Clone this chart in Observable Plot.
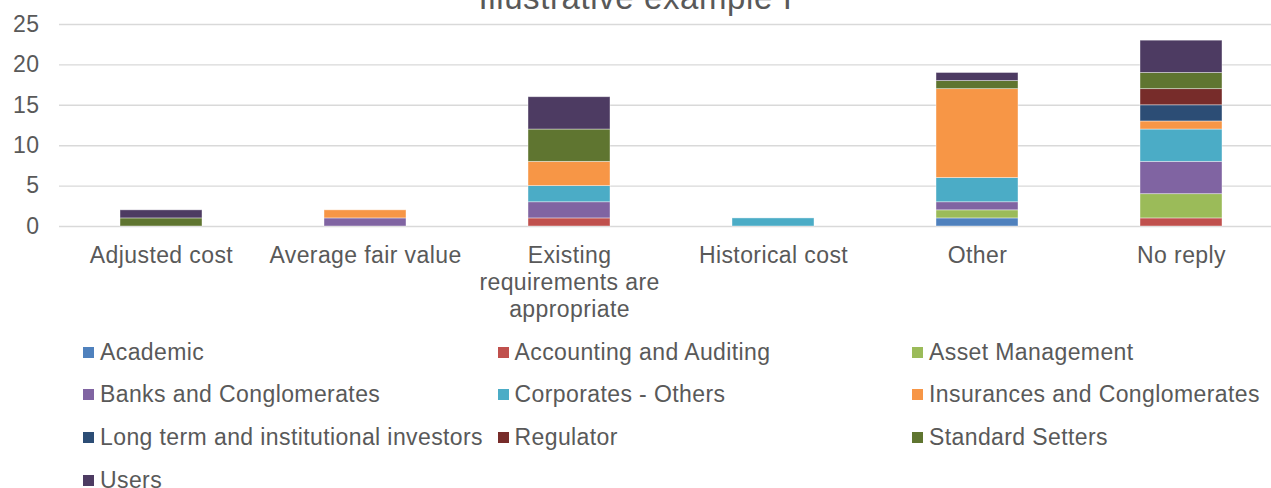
<!DOCTYPE html>
<html>
<head>
<meta charset="utf-8">
<script src="https://cdn.jsdelivr.net/npm/d3@7"></script>
<script src="https://cdn.jsdelivr.net/npm/@observablehq/plot@0.6"></script>
<style>
  html, body { margin: 0; padding: 0; background: #fff; overflow: hidden; }
  #wrap { position: relative; width: 1271px; height: 488px; font-family: "Liberation Sans", Arial, sans-serif; color: #595959; }
  #title { position: absolute; left: 0; top: -19px; width: 1271px; text-align: center; font-size: 33px; line-height: 33px; letter-spacing: 0.6px; white-space: nowrap; }
  #chart { position: absolute; left: 0; top: 0; }
  #chart svg text { letter-spacing: 0.4px; }
  .lg { position: absolute; display: flex; align-items: center; height: 30px; font-size: 23px; letter-spacing: 0.4px; white-space: nowrap; }
  .lg .sw { width: 11px; height: 11px; margin-right: 6px; flex: none; }
</style>
</head>
<body>
<div id="wrap">
  <div id="chart"></div>
  <div id="title">Illustrative example I</div>
  <div id="legend"></div>
</div>
<script>
const categories = ["Adjusted cost", "Average fair value", "Existing requirements are appropriate", "Historical cost", "Other", "No reply"];
const categoryLabels = ["Adjusted cost", "Average fair value", "Existing\nrequirements are\nappropriate", "Historical cost", "Other", "No reply"];
const groups = ["Academic", "Accounting and Auditing", "Asset Management", "Banks and Conglomerates", "Corporates - Others", "Insurances and Conglomerates", "Long term and institutional investors", "Regulator", "Standard Setters", "Users"];
const groupColors = ["#4F81BD", "#C0504D", "#9BBB59", "#8064A2", "#4BACC6", "#F79646", "#2C4D75", "#772C2A", "#5F7530", "#4D3B62"];
const yTicks = [0, 5, 10, 15, 20, 25];

// values per category, in category order
const academic        = [0, 0, 0, 0, 1, 0];
const accounting      = [0, 0, 1, 0, 0, 1];
const assetManagement = [0, 0, 0, 0, 1, 3];
const banks           = [0, 1, 2, 0, 1, 4];
const corporates      = [0, 0, 2, 1, 3, 4];
const insurances      = [0, 1, 3, 0, 11, 1];
const longTerm        = [0, 0, 0, 0, 0, 2];
const regulator       = [0, 0, 0, 0, 0, 2];
const standardSetters = [1, 0, 4, 0, 1, 2];
const users           = [1, 0, 4, 0, 1, 4];

const series = [academic, accounting, assetManagement, banks, corporates, insurances, longTerm, regulator, standardSetters, users];

const rows = [];
groups.forEach((g, gi) => {
  series[gi].forEach((v, ci) => {
    if (v > 0) rows.push({category: categories[ci], group: g, value: v});
  });
});

const plot = Plot.plot({
  width: 1271,
  height: 330,
  marginTop: 24,
  marginBottom: 104,
  marginLeft: 59,
  marginRight: -12,
  style: {fontFamily: '"Liberation Sans", Arial, sans-serif', fontSize: "23px", color: "#595959", background: "transparent", overflow: "hidden"},
  x: {domain: categories, paddingInner: 0.6, paddingOuter: 0.3, axis: null},
  y: {domain: [0, 25], axis: null},
  color: {domain: groups, range: groupColors},
  marks: [
    Plot.gridY(yTicks, {stroke: "#d9d9d9", strokeOpacity: 1, strokeWidth: 1.4}),
    Plot.axisY(yTicks, {tickSize: 0, tickPadding: 20, fontSize: 23, fill: "#595959", label: null}),
    Plot.barY(rows, {x: "category", y: "value", fill: "group", order: groups, stroke: "white", strokeOpacity: 0.5, strokeWidth: 0.8}),
    Plot.text(categories, {x: d => d, text: (d, i) => categoryLabels[i], frameAnchor: "bottom", lineAnchor: "top", dy: 17, lineHeight: 1.18, fontSize: 23, fill: "#595959"})
  ]
});
document.getElementById("chart").appendChild(plot);

const legend = document.getElementById("legend");
groups.forEach((g, i) => {
  const col = i % 3, row = Math.floor(i / 3);
  const item = document.createElement("div");
  item.className = "lg";
  item.style.left = (83 + col * 414.5) + "px";
  item.style.top = (352 + row * 42.7 - 15) + "px";
  const sw = document.createElement("span");
  sw.className = "sw";
  sw.style.background = groupColors[i];
  const tx = document.createElement("span");
  tx.textContent = g;
  item.appendChild(sw);
  item.appendChild(tx);
  legend.appendChild(item);
});
</script>
</body>
</html>
